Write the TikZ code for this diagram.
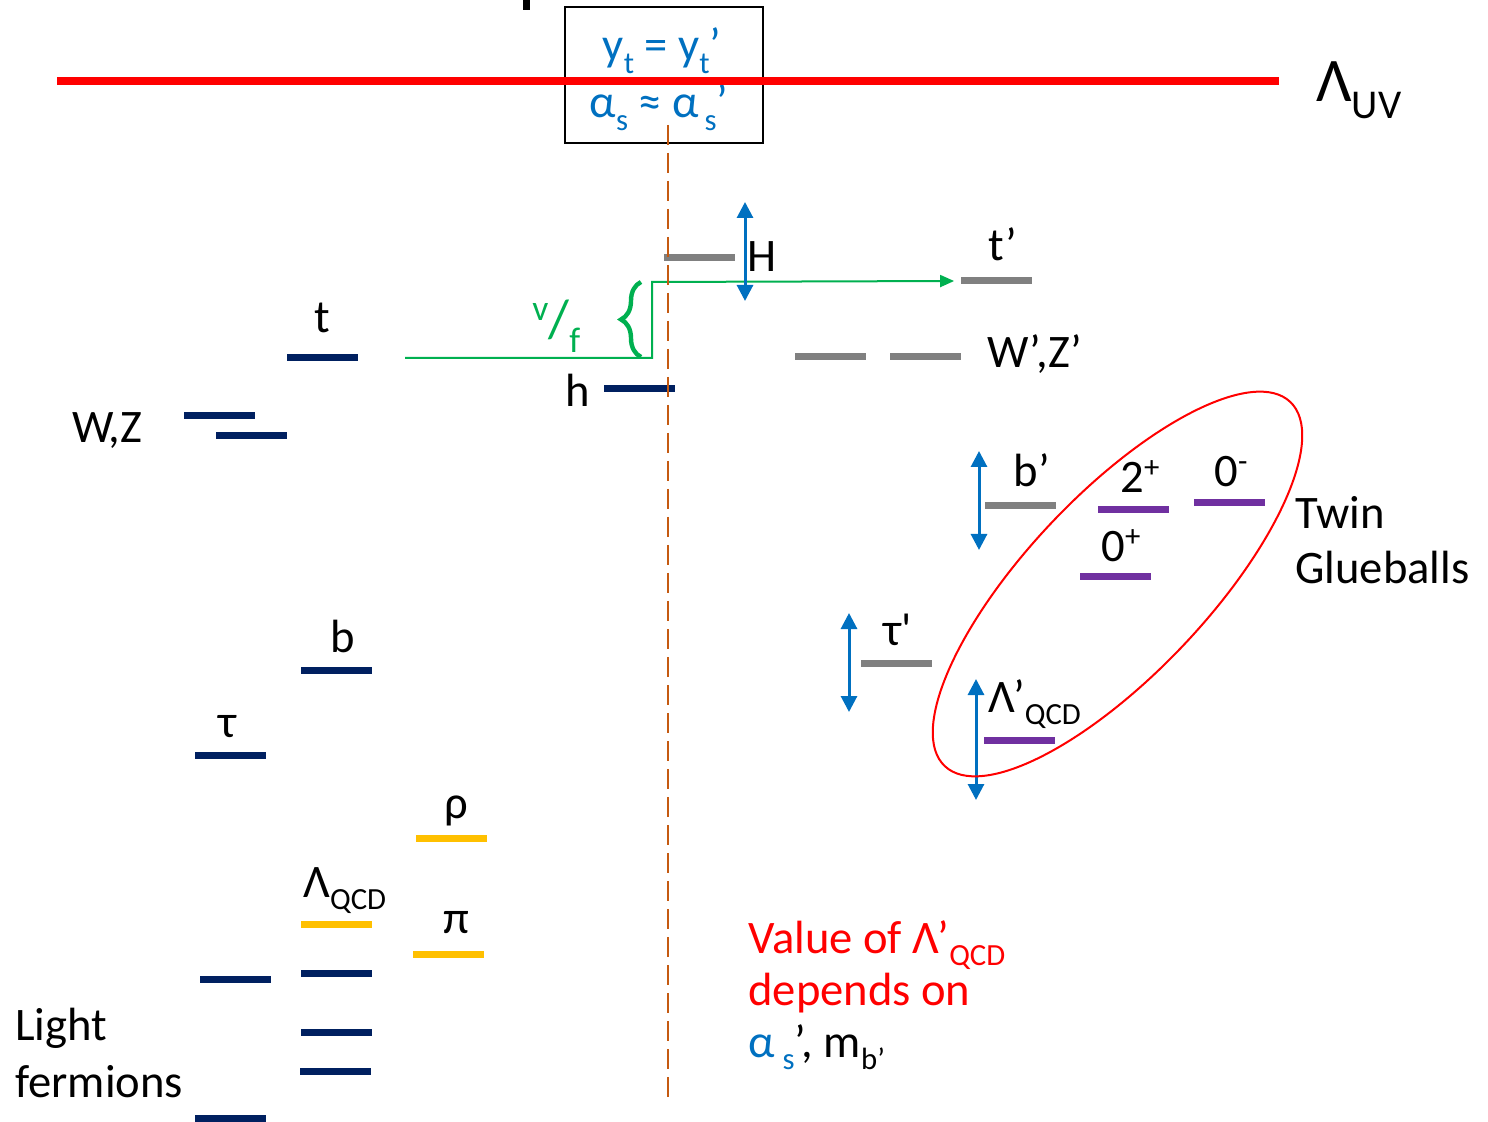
\documentclass[tikz,border=0pt]{standalone}
\usepackage{fontspec}
\setmainfont{Carlito}
\usetikzlibrary{arrows.meta,decorations.pathreplacing}
\definecolor{smnavy}{HTML}{002060}
\definecolor{twingray}{HTML}{808080}
\definecolor{hadgold}{HTML}{FFC000}
\definecolor{gluepurple}{HTML}{7030A0}
\definecolor{varblue}{HTML}{0070C0}
\definecolor{vevgreen}{HTML}{00B050}
\definecolor{cutorange}{HTML}{C55A11}
\newcommand\subtx[1]{\raisebox{-0.26em}{\scalebox{0.66}{#1}}}
\newcommand\suptx[1]{\raisebox{0.33em}{\scalebox{0.66}{#1}}}
\newcommand\lbl{\fontsize{23.3}{28.5}\selectfont}
\begin{document}
\begin{tikzpicture}[x=0.5pt,y=0.5pt,yscale=-1,
    lvl/.style={fill=#1, inner sep=0pt, minimum width=35.5pt, minimum height=3.5pt},
    tag/.style={anchor=base, inner sep=0pt, font=\lbl},
    spread/.style={draw=varblue, line width=1.5pt, {Triangle[length=8pt,width=8pt]}-{Triangle[length=8pt,width=8pt]}},
    vline/.style={draw=vevgreen, line width=1pt, -{Triangle[length=7pt,width=6pt]}},
    vbrace/.style={draw=vevgreen, line width=2.2pt, decorate, decoration={brace, amplitude=10pt}},
    cut/.style={draw=cutorange, line width=1.3pt, dash pattern=on 10pt off 4pt},
    glue/.style={draw=red, line width=1pt}]
    \useasboundingbox (0,0) rectangle (1488,1122);
    % cut-off mark at the top
    \fill (523,0) rectangle (530,10);
    % matching box at the cutoff
    \node[draw, line width=1pt, minimum width=99pt, minimum height=68pt, inner sep=0pt] (match) at (664,75) {};
    \node[tag, text=varblue] (yuk) at (662,61) {y\subtx{t} = y\subtx{t}’};
    \node[tag, text=varblue] (gauge) at (659,118) {α\subtx{s} ≈ α\kern0.12em\subtx{s}’};
    \coordinate (uvl) at (57,81);
    \coordinate (uvr) at (1279,81);
    \draw[red, line width=4pt] (uvl) -- (uvr);
    \node[anchor=base west, inner sep=0pt, font=\fontsize{31}{36}\selectfont] (uv) at (1316,102) {Λ\subtx{UV}};

    % SM levels
    \node[lvl=smnavy] (t) at (322.5,358) {};
    \node[lvl=smnavy] (h) at (639.5,389) {};
    \node[lvl=smnavy] (w) at (219.5,416) {};
    \node[lvl=smnavy] (z) at (251.5,436) {};
    \node[lvl=smnavy] (b) at (336.5,670) {};
    \node[lvl=smnavy] (tau) at (230.5,755) {};
    \node[lvl=smnavy] (lf1) at (235.5,979) {};
    \node[lvl=smnavy] (lf2) at (336,973) {};
    \node[lvl=smnavy] (lf3) at (336.5,1032) {};
    \node[lvl=smnavy] (lf4) at (335.5,1071) {};
    \node[lvl=smnavy] (lf5) at (230.5,1118) {};
    \node[lvl=hadgold] (rho) at (451,838) {};
    \node[lvl=hadgold] (lqcd) at (336,924) {};
    \node[lvl=hadgold] (pi) at (448,954) {};

    % twin levels
    \node[lvl=twingray] (H) at (699,258) {};
    \node[lvl=twingray] (tp) at (996,281) {};
    \node[lvl=twingray] (wp) at (830.5,357) {};
    \node[lvl=twingray] (zp) at (925.5,357) {};
    \node[lvl=twingray] (bp) at (1020.5,506) {};
    \node[lvl=twingray] (taup) at (896.5,663) {};
    \node[lvl=gluepurple] (g2p) at (1133.5,510) {};
    \node[lvl=gluepurple] (g0m) at (1229.5,503) {};
    \node[lvl=gluepurple] (g0p) at (1115.5,577) {};
    \node[lvl=gluepurple] (lqcdp) at (1019.5,740) {};

    % v/f step
    \coordinate (gs) at (405,358);
    \coordinate (kink) at (652,282);
    \draw[vline] (gs) -| (kink) -- ([xshift=-3pt]tp.west);
    \draw[vbrace] (641,357) -- (641,282);

    % uncertainty arrows
    \coordinate (Ht) at (745,202);
    \coordinate (Hb) at (745,301);
    \coordinate (bpt) at (979,451);
    \coordinate (bpb) at (979,550);
    \coordinate (taupt) at (849,613);
    \coordinate (taupb) at (849,712);
    \coordinate (lqt) at (976,679);
    \coordinate (lqb) at (976,800);
    \draw[spread] (Ht) -- (Hb);
    \draw[spread] (bpt) -- (bpb);
    \draw[spread] (taupt) -- (taupb);
    \draw[spread] (lqt) -- (lqb);

    % glueball ellipse
    \coordinate (gb) at (1117.5,584);
    \draw[glue, rotate around={-46.5:(gb)}] (gb) ellipse [x radius=251, y radius=90];

    % mirror line
    \coordinate (dtop) at (668,125);
    \coordinate (dbot) at (668,1100);
    \draw[cut] (dtop) -- (dbot);

    % labels
    \node[tag] (tl) at (322,333) {t};
    \node[tag] (wzl) at (107,443) {W,Z};
    \node[tag] (bl) at (343,652) {b};
    \node[tag] (taul) at (228,737) {τ};
    \node[tag] (rhol) at (456,818) {ρ};
    \node[tag, anchor=base west] (lqcdl) at (303,897) {Λ\subtx{QCD}};
    \node[tag] (pil) at (456,933) {π};
    \node[tag, anchor=base west, align=left] (lfl) at (15,1097) {Light\\fermions};
    \node[tag] (Hl) at (762,272) {H};
    \node[tag] (hl) at (578,407) {h};
    \node[tag, anchor=base west, text=vevgreen, font=\fontsize{27}{30}\selectfont] (vfl) at (532,338) {\suptx{v}/\subtx{f}};
    \node[tag] (tpl) at (1003,261) {t’};
    \node[tag, anchor=base west] (wzpl) at (987,368) {W’,Z’};
    \node[tag] (bpl) at (1032,487) {b’};
    \node[tag, anchor=base west] (g2l) at (1120,493) {2\suptx{+}};
    \node[tag, anchor=base west] (g0ml) at (1214,487) {0\suptx{-}};
    \node[tag, anchor=base west] (g0pl) at (1101,562) {0\suptx{+}};
    \node[tag, anchor=base west] (taupl) at (883,645) {τ\textquotesingle};
    \node[tag, anchor=base west] (lqcdpl) at (988,712) {Λ’\subtx{QCD}};
    \node[tag, anchor=base west, align=left, font=\fontsize{23.3}{27.5}\selectfont] (twin) at (1295,583) {Twin\\Glueballs};
    \node[tag, anchor=base west, align=left, text=red, font=\fontsize{23.3}{26}\selectfont] (note) at (748,1057)
        {Value of Λ’\subtx{QCD}\\depends on\\\textcolor{varblue}{α\,\subtx{s}}\textcolor{black}{’, m\subtx{b’}}};
\end{tikzpicture}
\end{document}
